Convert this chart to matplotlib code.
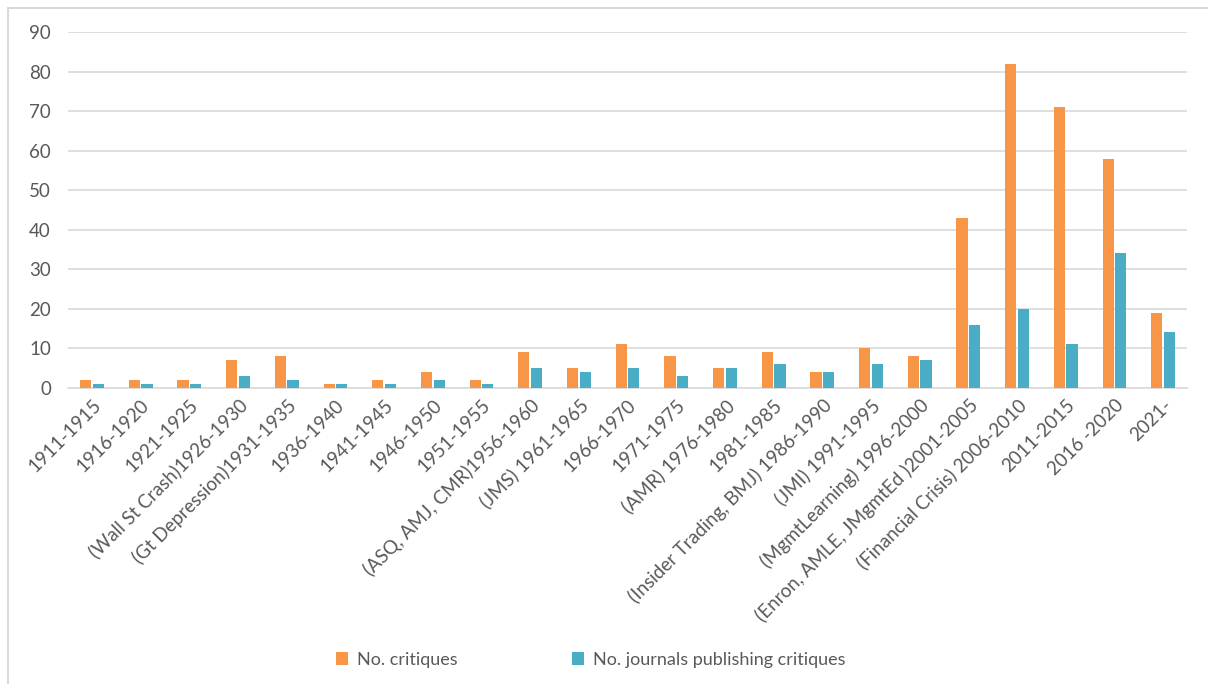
import numpy as np
import matplotlib.pyplot as plt
from matplotlib.patches import Rectangle

periods = ["1911-1915", "1916-1920", "1921-1925", "(Wall St Crash)1926-1930",
           "(Gt Depression)1931-1935", "1936-1940", "1941-1945", "1946-1950",
           "1951-1955", "(ASQ, AMJ, CMR)1956-1960", "(JMS) 1961-1965", "1966-1970",
           "1971-1975", "(AMR) 1976-1980", "1981-1985",
           "(Insider Trading, BMJ) 1986-1990", "(JMI) 1991-1995",
           "(MgmtLearning) 1996-2000", "(Enron, AMLE, JMgmtEd )2001-2005",
           "(Financial Crisis) 2006-2010", "2011-2015", "2016 -2020", "2021-"]
critiques = [2, 2, 2, 7, 8, 1, 2, 4, 2, 9, 5, 11, 8, 5, 9, 4, 10, 8, 43, 82, 71, 58, 19]
journals = [1, 1, 1, 3, 2, 1, 1, 2, 1, 5, 4, 5, 3, 5, 6, 4, 6, 7, 16, 20, 11, 34, 14]

plt.rcParams['font.family'] = ['Lato', 'DejaVu Sans']
text_col = '#595959'
grid_col = '#D9D9D9'

fig = plt.figure(figsize=(12.08, 6.84), dpi=100)
ax = fig.add_axes([0.056, 0.433, 0.927, 0.52])

x = np.arange(len(periods))
w = 0.23
ax.bar(x - 0.13, critiques, w, color='#F79646', label='No. critiques', zorder=3)
ax.bar(x + 0.13, journals, w, color='#4BACC6', label='No. journals publishing critiques', zorder=3)

ax.set_xlim(-0.5, len(periods) - 0.5)
ax.set_ylim(0, 90)
ax.set_yticks(range(0, 91, 10))
ax.yaxis.grid(True, color=grid_col, linewidth=1.2, zorder=0)
ax.set_xticks(x)
ax.set_xticklabels(periods, rotation=45, ha='right', rotation_mode='anchor')
ax.tick_params(axis='both', length=0, labelsize=13.5, colors=text_col)
ax.tick_params(axis='x', pad=6)
ax.tick_params(axis='y', pad=12)
for s in ['top', 'right', 'left']:
    ax.spines[s].set_visible(False)
ax.spines['bottom'].set_color(grid_col)
ax.spines['bottom'].set_linewidth(1.2)

fig.legend(loc='center', bbox_to_anchor=(0.489, 0.035), ncol=2, frameon=False,
           fontsize=13, labelcolor=text_col, handlelength=0.7, handleheight=0.7,
           columnspacing=6.3, handletextpad=0.5)

fig.patches.append(Rectangle((8 / 1208, -0.01), 1.1, 1 - 8 / 684 + 0.01,
                             transform=fig.transFigure, fill=False,
                             edgecolor='#D9D9D9', linewidth=1.5))

fig.savefig('out.png', dpi=100)
